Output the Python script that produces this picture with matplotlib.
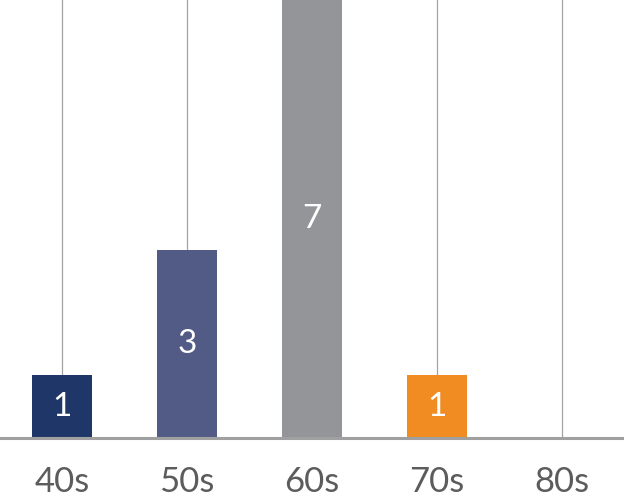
import matplotlib
matplotlib.use("Agg")
import matplotlib.pyplot as plt

categories = ["40s", "50s", "60s", "70s", "80s"]
values = [1, 3, 7, 1, 0]
colors = ["#1f3768", "#525b85", "#939598", "#f08c22", "#cccccc"]

W, H = 624, 503
fig = plt.figure(figsize=(W / 100, H / 100), dpi=100)
base_px = 438
ax = fig.add_axes([0, (H - base_px) / H, 1, base_px / H])

x = list(range(len(categories)))
ax.set_xlim(-0.5, len(categories) - 0.5)
ax.set_ylim(0, 7.0)

for xi in x:
    ax.axvline(xi, color="#a3a3a3", lw=0.9, zorder=1)

bars = ax.bar(x, values, width=0.48, color=colors, zorder=2)
font = ["Lato", "DejaVu Sans"]
for xi, v in zip(x, values):
    if v > 0:
        ax.text(xi, v / 2, str(v), ha="center", va="center", color="white",
                fontsize=24, family=font, fontweight="normal", zorder=3)

ax.axhline(0, color="#a0a0a0", lw=2.2, zorder=4, clip_on=False)
for s in ax.spines.values():
    s.set_visible(False)
ax.set_yticks([])
ax.set_xticks(x)
ax.set_xticklabels(categories, family=font, fontweight="normal", fontsize=25, color="#5c5c5c")
ax.tick_params(axis="x", length=0, pad=20)

fig.savefig("out.png", dpi=100)
